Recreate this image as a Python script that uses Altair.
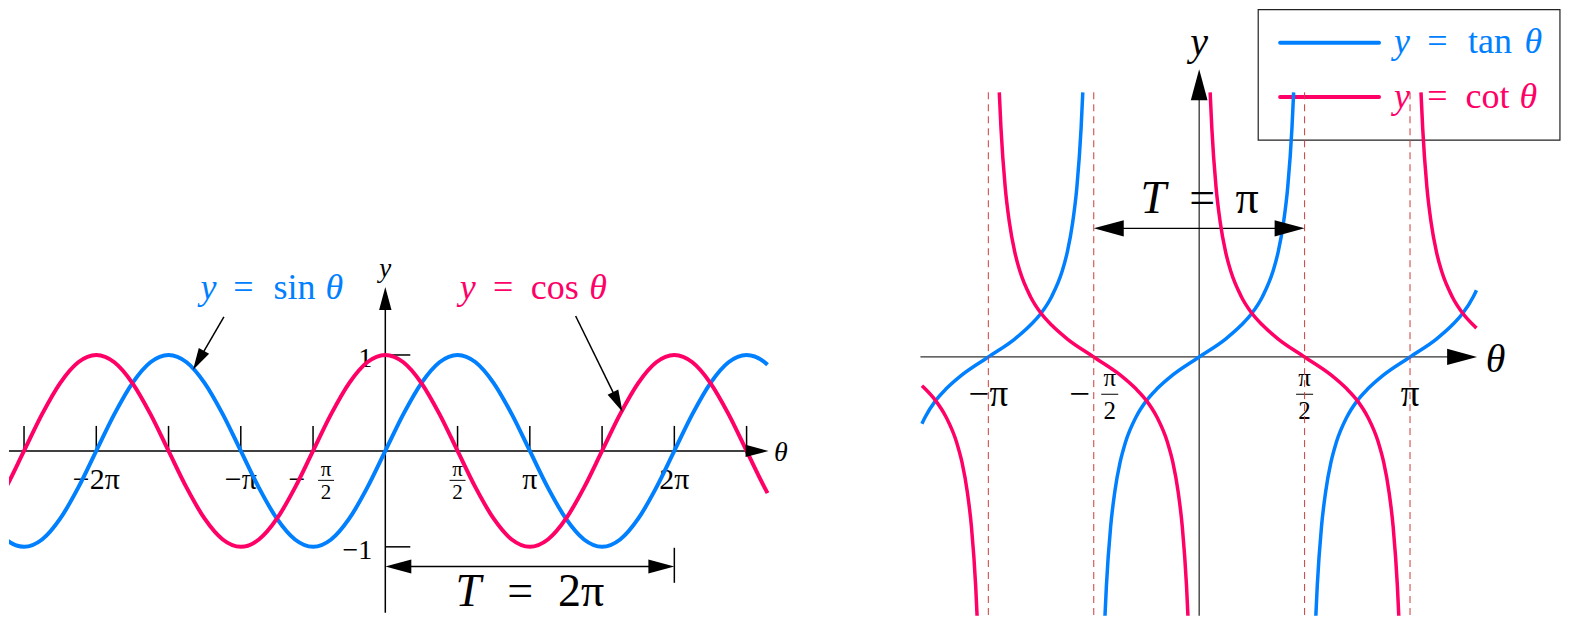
import altair as alt
import pandas as pd

BLUE = "#0080ff"
RED = "#ff0066"
DASH = "#cc3b3b"
FONT = "Liberation Serif"
ARROW = "M0,0L-0.27,1L0.27,1Z"

# ---------------- left panel data (theta in multiples of pi) ----------------
theta_l = [-2.645, -2.625, -2.5, -2.375, -2.25, -2.125, -2.0, -1.875, -1.75, -1.625,
           -1.5, -1.375, -1.25, -1.125, -1.0, -0.875, -0.75, -0.625, -0.5, -0.375,
           -0.25, -0.125, 0.0, 0.125, 0.25, 0.375, 0.5, 0.625, 0.75, 0.875,
           1.0, 1.125, 1.25, 1.375, 1.5, 1.625, 1.75, 1.875, 2.0, 2.125,
           2.25, 2.375, 2.5, 2.625, 2.645]
sin_vals = [-0.898, -0.924, -1.0, -0.924, -0.707, -0.383, 0.0, 0.383, 0.707, 0.924,
            1.0, 0.924, 0.707, 0.383, 0.0, -0.383, -0.707, -0.924, -1.0, -0.924,
            -0.707, -0.383, 0.0, 0.383, 0.707, 0.924, 1.0, 0.924, 0.707, 0.383,
            0.0, -0.383, -0.707, -0.924, -1.0, -0.924, -0.707, -0.383, 0.0, 0.383,
            0.707, 0.924, 1.0, 0.924, 0.898]
cos_vals = [-0.440, -0.383, 0.0, 0.383, 0.707, 0.924, 1.0, 0.924, 0.707, 0.383,
            0.0, -0.383, -0.707, -0.924, -1.0, -0.924, -0.707, -0.383, 0.0, 0.383,
            0.707, 0.924, 1.0, 0.924, 0.707, 0.383, 0.0, -0.383, -0.707, -0.924,
            -1.0, -0.924, -0.707, -0.383, 0.0, 0.383, 0.707, 0.924, 1.0, 0.924,
            0.707, 0.383, 0.0, -0.383, -0.440]

l_tick_pos = [-2.5, -2.0, -1.5, -1.0, -0.5, 0.5, 1.0, 1.5, 2.0, 2.5]
l_int_pos = [-2.0, -1.0, 1.0, 2.0]
l_int_labels = ["\u22122\u03c0", "\u2212\u03c0", "\u03c0", "2\u03c0"]
l_ytick_pos = [1.0, -1.0]
l_ytick_labels = ["1", "\u22121"]

# ---------------- right panel data ----------------
tan_x = {
    "a": [-1.315, -1.3, -1.25, -1.2, -1.125, -1.0, -0.875, -0.8, -0.75, -0.7, -0.65, -0.625, -0.6, -0.58, -0.56, -0.552],
    "b": [-0.448, -0.44, -0.42, -0.4, -0.375, -0.35, -0.3, -0.25, -0.2, -0.125, 0.0,
          0.125, 0.2, 0.25, 0.3, 0.35, 0.375, 0.4, 0.42, 0.44, 0.448],
    "c": [0.552, 0.56, 0.58, 0.6, 0.625, 0.65, 0.7, 0.75, 0.8, 0.875, 1.0, 1.125, 1.2, 1.25, 1.3, 1.315],
}
tan_y = {
    "a": [-1.53, -1.38, -1.0, -0.73, -0.41, 0.0, 0.41, 0.73, 1.0, 1.38, 1.96, 2.41, 3.08, 3.89, 5.24, 6.06],
    "b": [-6.06, -5.24, -3.89, -3.08, -2.41, -1.96, -1.38, -1.0, -0.73, -0.41, 0.0,
          0.41, 0.73, 1.0, 1.38, 1.96, 2.41, 3.08, 3.89, 5.24, 6.06],
    "c": [-6.06, -5.24, -3.89, -3.08, -2.41, -1.96, -1.38, -1.0, -0.73, -0.41, 0.0, 0.41, 0.73, 1.0, 1.38, 1.53],
}
cot_x = {
    "a": [-1.315, -1.3, -1.25, -1.2, -1.15, -1.125, -1.1, -1.08, -1.06, -1.052],
    "b": [-0.948, -0.94, -0.92, -0.9, -0.875, -0.85, -0.8, -0.75, -0.7, -0.625, -0.5,
          -0.375, -0.3, -0.25, -0.2, -0.15, -0.125, -0.1, -0.08, -0.06, -0.052],
    "c": [0.052, 0.06, 0.08, 0.1, 0.125, 0.15, 0.2, 0.25, 0.3, 0.375, 0.5,
          0.625, 0.7, 0.75, 0.8, 0.85, 0.875, 0.9, 0.92, 0.94, 0.948],
    "d": [1.052, 1.06, 1.08, 1.1, 1.125, 1.15, 1.2, 1.25, 1.3, 1.315],
}
cot_y = {
    "a": [-0.66, -0.73, -1.0, -1.38, -1.96, -2.41, -3.08, -3.89, -5.24, -6.06],
    "b": [6.06, 5.24, 3.89, 3.08, 2.41, 1.96, 1.38, 1.0, 0.73, 0.41, 0.0,
          -0.41, -0.73, -1.0, -1.38, -1.96, -2.41, -3.08, -3.89, -5.24, -6.06],
    "c": [6.06, 5.24, 3.89, 3.08, 2.41, 1.96, 1.38, 1.0, 0.73, 0.41, 0.0,
          -0.41, -0.73, -1.0, -1.38, -1.96, -2.41, -3.08, -3.89, -5.24, -6.06],
    "d": [6.06, 5.24, 3.89, 3.08, 2.41, 1.96, 1.38, 1.0, 0.73, 0.66],
}
asymptotes = [-1.0, -0.5, 0.5, 1.0]
r_int_pos = [-1.0, 1.0]
r_int_labels = ["\u2212\u03c0", "\u03c0"]

# ---------------- layout ----------------
L_W, R_W, H = 792, 649, 608
L_XD = [-2.604, 2.873]
L_YD = [-1.719, 4.615]
R_XD = [-1.360, 1.716]
R_YD = [-5.927, 7.986]


def X(dom, f="x"):
    return alt.X(f, type="quantitative", scale=alt.Scale(domain=dom, nice=False, zero=False), axis=None)


def Y(dom, f="y"):
    return alt.Y(f, type="quantitative", scale=alt.Scale(domain=dom, nice=False, zero=False), axis=None)


def rule(df, xd, yd, **kw):
    enc = {"x": X(xd), "y": Y(yd)}
    if "x2" in df:
        enc["x2"] = alt.X2("x2")
    if "y2" in df:
        enc["y2"] = alt.Y2("y2")
    return alt.Chart(pd.DataFrame(df)).mark_rule(**kw).encode(**enc)


def text(x, y, s, xd, yd, size, color="black", italic=False, dx=0, dy=0, align="center"):
    return alt.Chart(pd.DataFrame({"x": [x], "y": [y]})).mark_text(
        text=s, font=FONT, fontSize=size, color=color, dx=dx, dy=dy, align=align,
        baseline="alphabetic", fontStyle="italic" if italic else "normal"
    ).encode(x=X(xd), y=Y(yd))


def math(x, y, pieces, xd, yd, size, color):
    return [text(x, y, s, xd, yd, size, color, it, dx) for s, dx, it in pieces]


def arrows(df, xd, yd):
    d = pd.DataFrame(df)
    d["size"] = [4 * L * L for L in d["L"]]
    return alt.Chart(d).mark_point(shape=ARROW, filled=True, color="black", opacity=1, strokeWidth=0).encode(
        x=X(xd), y=Y(yd), angle=alt.Angle("angle:Q", scale=None), size=alt.Size("size:Q", scale=None))


def fraction(x, y_num, y_bar, y_den, xd, yd, size, dxf, half):
    return [text(x, y_num, "\u03c0", xd, yd, size, dx=dxf),
            rule({"x": [x], "x2": [x], "y": [y_bar]}, xd, yd, color="black", strokeWidth=1,
                 xOffset=dxf - half, x2Offset=dxf + half),
            text(x, y_den, "2", xd, yd, size, dx=dxf)]


# ---------------- left panel ----------------
L = []
AXL = dict(color="black", strokeWidth=1.5)
L.append(rule({"x": [-2.604], "x2": [2.652], "y": [0.0]}, L_XD, L_YD, x2Offset=-18, **AXL))
L.append(rule({"x": [0.0], "y": [-1.6875], "y2": [1.708]}, L_XD, L_YD, y2Offset=18, **AXL))
L.append(alt.Chart(pd.DataFrame({"x": l_tick_pos, "y": [0.0] * len(l_tick_pos)})).mark_rule(
    y2Offset=-25, **AXL).encode(x=X(L_XD), y=Y(L_YD), y2=alt.Y2("y")))
L.append(alt.Chart(pd.DataFrame({"x": [0.0, 0.0], "y": l_ytick_pos})).mark_rule(
    x2Offset=25, **AXL).encode(x=X(L_XD), x2=alt.X2("x"), y=Y(L_YD)))
L.append(rule({"x": [0.0], "x2": [2.0], "y": [-1.205]}, L_XD, L_YD, xOffset=18, x2Offset=-18, **AXL))
L.append(rule({"x": [2.0], "y": [-1.010], "y2": [-1.375]}, L_XD, L_YD, **AXL))
L.append(rule({"x": [-1.117], "y": [1.396], "x2": [-1.296], "y2": [0.934]}, L_XD, L_YD, **AXL))
L.append(rule({"x": [1.317], "y": [1.406], "x2": [1.612], "y2": [0.50]}, L_XD, L_YD, **AXL))
# tick labels
L.append(alt.Chart(pd.DataFrame({"x": l_int_pos, "y": [-0.396] * 4, "label": l_int_labels})).mark_text(
    font=FONT, fontSize=30, color="black", baseline="alphabetic").encode(
    x=X(L_XD), y=Y(L_YD), text="label:N"))
L.append(text(-0.5, -0.396, "\u2212", L_XD, L_YD, 30, dx=-16))
L += fraction(-0.5, -0.26, -0.307, -0.5, L_XD, L_YD, 21, 13, 8)
L += fraction(0.5, -0.26, -0.307, -0.5, L_XD, L_YD, 21, 0, 8)
L.append(alt.Chart(pd.DataFrame({"x": [0.0, 0.0], "y": l_ytick_pos, "label": l_ytick_labels})).mark_text(
    font=FONT, fontSize=28, color="black", baseline="alphabetic", align="right", dx=-13, dy=12).encode(
    x=X(L_XD), y=Y(L_YD), text="label:N"))
L.append(text(0.0, 1.8125, "y", L_XD, L_YD, 27, italic=True))
L.append(text(2.737, -0.109, "\u03b8", L_XD, L_YD, 28, italic=True))
L += math(-0.788, 1.583, [("y", -63, True), ("=", -28, False), ("sin", 23, False), ("\u03b8", 63, True)],
          L_XD, L_YD, 36, BLUE)
L += math(1.0235, 1.583, [("y", -65.5, True), ("=", -30, False), ("cos", 21.5, False), ("\u03b8", 65, True)],
          L_XD, L_YD, 36, RED)
L += math(1.0, -1.615, [("T", -61.6, True), ("=", -9.6, False), ("2\u03c0", 51.4, False)],
          L_XD, L_YD, 46, "black")
# curves
L.append(alt.Chart(pd.DataFrame({"x": theta_l, "y": sin_vals})).mark_line(
    color=BLUE, strokeWidth=4, interpolate="monotone", clip=True).encode(x=X(L_XD), y=Y(L_YD)))
L.append(alt.Chart(pd.DataFrame({"x": theta_l, "y": cos_vals})).mark_line(
    color=RED, strokeWidth=4, interpolate="monotone", clip=True).encode(x=X(L_XD), y=Y(L_YD)))
L.append(arrows({"x": [2.652, 0.0, 0.0, 2.0, -1.331, 1.642],
                 "y": [0.0, 1.708, -1.205, -1.205, 0.844, 0.406],
                 "angle": [90, 0, 270, 90, 210, 154],
                 "L": [23, 23, 26, 26, 22, 22]}, L_XD, L_YD))

left = alt.layer(*L).properties(width=L_W, height=H)

# ---------------- right panel ----------------
R = []
R.append(alt.Chart(pd.DataFrame({"x": [0.280], "x2": [1.711], "y": [7.952], "y2": [4.966]})).mark_rect(
    color="white", fillOpacity=0, stroke="#222222", strokeWidth=1.2).encode(
    x=X(R_XD), x2=alt.X2("x2"), y=Y(R_YD), y2=alt.Y2("y2")))
R.append(rule({"x": [0.384], "x2": [0.853], "y": [7.192]}, R_XD, R_YD, color=BLUE, strokeWidth=4, strokeCap="round"))
R.append(rule({"x": [0.384], "x2": [0.853], "y": [5.950]}, R_XD, R_YD, color=RED, strokeWidth=4, strokeCap="round"))
R += math(1.2725, 6.950, [("y", -65.5, True), ("=", -30, False), ("tan", 22.5, False), ("\u03b8", 66, True)],
          R_XD, R_YD, 36, BLUE)
R += math(1.2725, 5.691, [("y", -65.5, True), ("=", -30, False), ("cot", 20, False), ("\u03b8", 61, True)],
          R_XD, R_YD, 36, RED)
AXR = dict(color="#333333", strokeWidth=1.3)
R.append(rule({"x": [-1.322], "x2": [1.318], "y": [0.0]}, R_XD, R_YD, x2Offset=-24, **AXR))
R.append(rule({"x": [0.0], "y": [-5.927], "y2": [6.590]}, R_XD, R_YD, y2Offset=24, **AXR))
R.append(rule({"x": [-0.5], "x2": [0.5], "y": [2.945]}, R_XD, R_YD, xOffset=22, x2Offset=-22,
              color="black", strokeWidth=1.3))
R.append(alt.Chart(pd.DataFrame({"x": r_int_pos, "y": [-1.121] * 2, "label": r_int_labels})).mark_text(
    font=FONT, fontSize=37, color="black", baseline="alphabetic").encode(
    x=X(R_XD), y=Y(R_YD), text="label:N"))
R.append(text(-0.5, -1.121, "\u2212", R_XD, R_YD, 37, dx=-14))
R += fraction(-0.5, -0.664, -0.854, -1.419, R_XD, R_YD, 25, 16, 8.5)
R += fraction(0.5, -0.664, -0.854, -1.419, R_XD, R_YD, 25, 0, 8.5)
R.append(text(0.0, 6.922, "y", R_XD, R_YD, 40, italic=True))
R.append(text(1.406, -0.343, "\u03b8", R_XD, R_YD, 40, italic=True))
R += math(0.0, 3.295, [("T", -46, True), ("=", 3, False), ("\u03c0", 48, False)], R_XD, R_YD, 46, "black")

tan_rows = [{"x": xv, "y": yv, "branch": k} for k in tan_x for xv, yv in zip(tan_x[k], tan_y[k])]
cot_rows = [{"x": xv, "y": yv, "branch": k} for k in cot_x for xv, yv in zip(cot_x[k], cot_y[k])]
R.append(alt.Chart(pd.DataFrame(tan_rows)).mark_line(
    color=BLUE, strokeWidth=3.5, interpolate="monotone", clip=True).encode(
    x=X(R_XD), y=Y(R_YD), detail="branch:N"))
R.append(alt.Chart(pd.DataFrame(cot_rows)).mark_line(
    color=RED, strokeWidth=3.5, interpolate="monotone", clip=True).encode(
    x=X(R_XD), y=Y(R_YD), detail="branch:N"))
R.append(alt.Chart(pd.DataFrame({"x": asymptotes, "y": [6.06] * 4, "y2": [-5.927] * 4})).mark_rule(
    color=DASH, strokeWidth=1, strokeDash=[7, 5], clip=True).encode(
    x=X(R_XD), y=Y(R_YD), y2=alt.Y2("y2")))
R.append(arrows({"x": [1.318, 0.0, -0.5, 0.5],
                 "y": [0.0, 6.590, 2.945, 2.945],
                 "angle": [90, 0, 270, 90],
                 "L": [30, 31, 30, 30]}, R_XD, R_YD))

right = alt.layer(*R).properties(width=R_W, height=H)

chart = alt.hconcat(left, right, spacing=112).properties(padding=0).configure_view(stroke=None)
chart.save("out.html", embed_options={"renderer": "svg", "actions": False})
